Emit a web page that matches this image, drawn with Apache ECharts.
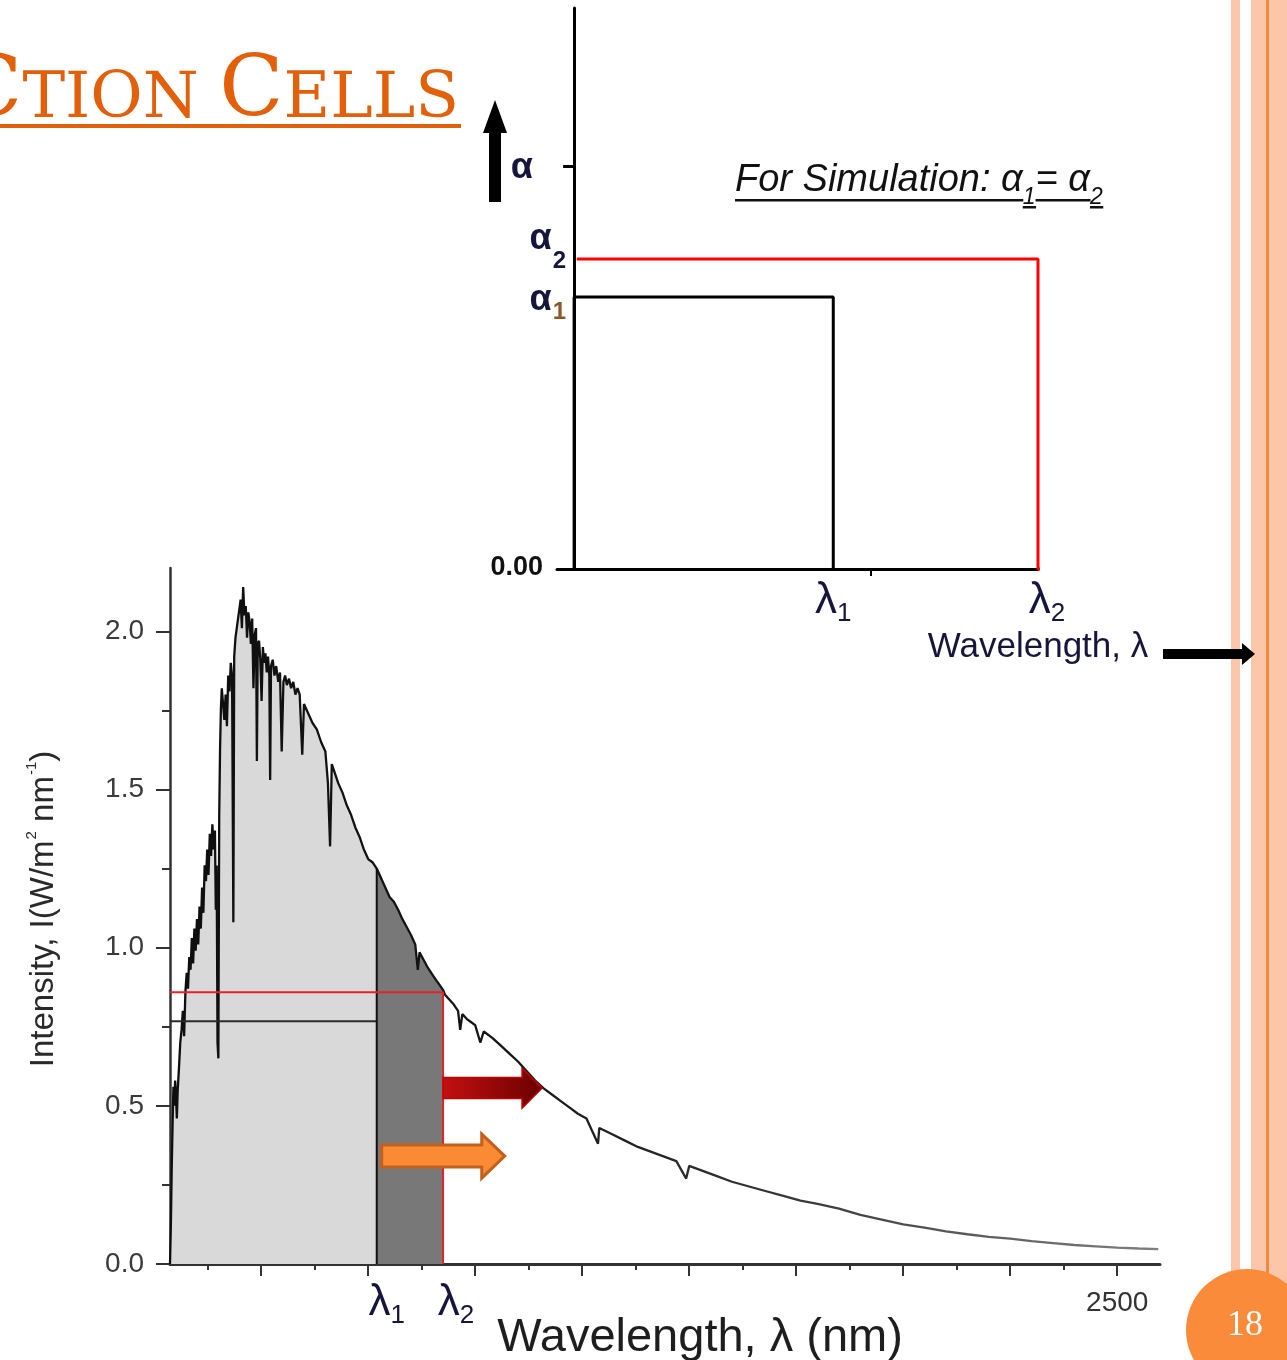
<!DOCTYPE html>
<html>
<head>
<meta charset="utf-8">
<script src="https://cdn.jsdelivr.net/npm/echarts@6/dist/echarts.min.js"></script>
<style>
  html, body { margin: 0; padding: 0; background: #ffffff; }
  #chart { width: 1287px; height: 1360px; }
</style>
</head>
<body>
<div id="chart"></div>
<script>
// ---- Step model: absorption coefficient vs wavelength (arbitrary units) ----
const stepLam1 = 1.0;
const stepLam2 = 1.79;
const stepAlpha1 = 1.0;
const stepAlpha2 = 1.14;
const stepAlphaMark = 1.48;
const stepXTick = 1.143;
const stepXEnd = 2.76;

// ---- Solar spectral irradiance, W/m^2/nm ----
const wavelengthNm = [
  287, 289, 291, 293, 295, 297, 299, 301, 303, 305, 308, 311, 314, 317, 320, 323, 326, 329, 332, 335,
  338, 341, 344, 347, 350, 353, 356, 359, 362, 365, 368, 371, 374, 377, 380, 383, 386, 389, 392, 394,
  396, 398, 400, 402, 404, 406, 408, 411, 414, 417, 420, 423, 426, 429, 432, 435, 437, 440, 444, 448,
  452, 455, 458, 461, 464, 467, 470, 473, 476, 479, 482, 485, 488, 490, 492, 495, 498, 501, 504, 507,
  510, 513, 516, 519, 521, 523, 527, 531, 535, 540, 544, 548, 552, 556, 560, 565, 570, 575, 580, 585,
  590, 596, 600, 610, 620, 630, 640, 650, 656, 661, 665, 670, 680, 690, 700, 710, 720, 730, 740, 750,
  760, 770, 780, 790, 800, 810, 820, 830, 840, 850, 860, 866, 870, 880, 890, 900, 910, 918, 925, 930,
  940, 950, 960, 965, 970, 980, 990, 1000, 1012, 1020, 1040, 1060, 1080, 1100, 1120, 1140, 1160, 1180, 1200, 1220,
  1240, 1260, 1287, 1290, 1320, 1350, 1380, 1410, 1440, 1470, 1493, 1500, 1530, 1560, 1600, 1640, 1680, 1720, 1760, 1800,
  1850, 1900, 1950, 2000, 2050, 2100, 2150, 2200, 2250, 2300, 2350, 2400, 2450, 2500, 2550, 2596
];
const intensity = [
  0.00, 0.12, 0.30, 0.44, 0.56, 0.50, 0.58, 0.53, 0.46, 0.55, 0.62, 0.70, 0.74, 0.80, 0.72, 0.86, 0.92, 0.87, 0.97, 0.93,
  1.03, 0.95, 1.06, 0.99, 1.09, 1.01, 1.13, 1.06, 1.19, 1.11, 1.26, 1.21, 1.31, 1.23, 1.36, 1.29, 1.39, 1.31, 1.37, 1.12,
  1.26, 0.70, 0.65, 1.42, 1.63, 1.76, 1.82, 1.77, 1.72, 1.80, 1.70, 1.86, 1.81, 1.90, 1.86, 1.08, 1.92, 1.98, 2.02, 2.06,
  2.10, 2.01, 2.14, 2.05, 2.08, 1.98, 2.06, 2.03, 1.96, 2.04, 1.82, 1.99, 2.01, 1.59, 1.96, 1.97, 1.91, 1.78, 1.95, 1.90,
  1.93, 1.87, 1.92, 1.86, 1.53, 1.89, 1.91, 1.86, 1.89, 1.84, 1.87, 1.62, 1.84, 1.86, 1.83, 1.85, 1.82, 1.84, 1.80, 1.82,
  1.80, 1.61, 1.77, 1.74, 1.71, 1.69, 1.65, 1.62, 1.52, 1.32, 1.58, 1.56, 1.52, 1.49, 1.45, 1.42, 1.38, 1.35, 1.31, 1.28,
  1.27, 1.25, 1.22, 1.19, 1.16, 1.145, 1.12, 1.09, 1.065, 1.04, 1.01, 0.93, 0.985, 0.96, 0.935, 0.915, 0.895, 0.88, 0.866, 0.85,
  0.835, 0.82, 0.80, 0.74, 0.79, 0.775, 0.765, 0.755, 0.70, 0.735, 0.715, 0.69, 0.665, 0.64, 0.61, 0.58, 0.555, 0.535, 0.515, 0.495,
  0.475, 0.46, 0.38, 0.43, 0.41, 0.39, 0.37, 0.355, 0.34, 0.325, 0.27, 0.31, 0.295, 0.28, 0.26, 0.245, 0.23, 0.215, 0.20, 0.19,
  0.175, 0.155, 0.14, 0.125, 0.115, 0.103, 0.094, 0.086, 0.08, 0.072, 0.066, 0.06, 0.056, 0.052, 0.049, 0.047
];

// Band edges and the levels drawn up to them
const lam1Nm = 770;
const lam2Nm = 925;
const lam1Top = 1.25;
const lam1Level = 0.767;
const lam2Level = 0.859;
const redArrowLevel = 0.556;
const orangeArrowLevel = 0.341;

// Axis ticks
const majorTicksNm = [500, 750, 1000, 1250, 1500, 1750, 2000, 2250, 2500];
const minorTicksNm = [375, 625, 875, 1125, 1375, 1625, 1875, 2125, 2375];
const yMajorTicks = [0, 0.5, 1.0, 1.5, 2.0];
const yMinorTicks = [0.25, 0.75, 1.25, 1.75];

const sans = '"Liberation Sans", Arial, Helvetica, sans-serif';
const ink = '#16163c';
const orange = '#e3600b';

function isNear(a, b) { return Math.abs(a - b) < 1e-6; }

const spectrum = wavelengthNm.map((w, i) => [w, intensity[i]]);
const spectrumToLam1 = spectrum.filter(p => p[0] <= lam1Nm);
const spectrumLam1ToLam2 = spectrum.filter(p => p[0] >= lam1Nm && p[0] <= lam2Nm);

const chart = echarts.init(document.getElementById('chart'), null, { renderer: 'canvas', width: 1287, height: 1360 });

const lamRich = {
  l: { fontFamily: sans, fontSize: 44, lineHeight: 44, color: ink },
  l2: { fontFamily: sans, fontSize: 44, lineHeight: 44, color: ink, padding: [0, 0, 0, 18] },
  ll1: { fontFamily: sans, fontSize: 44, lineHeight: 44, color: ink, padding: [0, 0, 0, 20] },
  ll2: { fontFamily: sans, fontSize: 44, lineHeight: 44, color: ink, padding: [0, 0, 0, 26] },
  s: { fontFamily: sans, fontSize: 26, lineHeight: 26, color: ink, padding: [26, 0, 0, 0] },
  n: { fontFamily: sans, fontSize: 28, lineHeight: 28, color: '#333333', padding: [16, 0, 0, 0] }
};

const option = {
  animation: false,
  backgroundColor: '#ffffff',
  grid: [
    { left: 557, top: 8, width: 481, height: 561, containLabel: false, outerBoundsMode: 'none' },
    { left: 170, top: 568, width: 990, height: 696, containLabel: false, outerBoundsMode: 'none' }
  ],
  xAxis: [
    {
      gridIndex: 0, type: 'value', min: -0.066, max: stepLam2, position: 'bottom',
      axisLine: { show: true, onZero: true, lineStyle: { color: '#000', width: 3 } },
      axisTick: { show: true, customValues: [stepXTick], length: 7, lineStyle: { color: '#000', width: 2 } },
      axisLabel: {
        show: true, customValues: [stepLam1, stepLam2], margin: 10,
        formatter: v => isNear(v, stepLam1) ? '{l|λ}{s|1}' : '{l2|λ}{s|2}',
        rich: lamRich
      },
      splitLine: { show: false },
      name: 'Wavelength, λ', nameLocation: 'end', nameGap: 0, nameMoveOverlap: false,
      nameTextStyle: { fontFamily: sans, fontSize: 35, color: ink, align: 'center', verticalAlign: 'top', padding: [61, 0, 0, 0] }
    },
    {
      gridIndex: 1, type: 'value', min: 287, max: 2600, position: 'bottom',
      axisLine: { show: true, onZero: false, lineStyle: { color: '#333', width: 3 } },
      axisTick: { show: true, customValues: majorTicksNm, length: 12, lineStyle: { color: '#333', width: 2 } },
      axisLabel: {
        show: true, customValues: [lam1Nm, lam2Nm, 2500], margin: 17,
        formatter: v => isNear(v, lam1Nm) ? '{ll1|λ}{s|1}' : (isNear(v, lam2Nm) ? '{ll2|λ}{s|2}' : '{n|' + v + '}'),
        rich: lamRich
      },
      splitLine: { show: false },
      name: 'Wavelength, λ (nm)', nameLocation: 'middle', nameGap: 51, nameMoveOverlap: false,
      nameTextStyle: { fontFamily: sans, fontSize: 47, color: '#1e1e1e', padding: [0, 0, 0, 70] }
    },
    {
      gridIndex: 1, type: 'value', min: 287, max: 2600, position: 'bottom',
      axisLine: { show: false, onZero: false },
      axisTick: { show: true, customValues: minorTicksNm, length: 6, lineStyle: { color: '#333', width: 2 } },
      axisLabel: { show: false },
      splitLine: { show: false }
    }
  ],
  yAxis: [
    {
      gridIndex: 0, type: 'value', min: 0, max: 2.0625, position: 'left',
      axisLine: { show: true, onZero: true, lineStyle: { color: '#000', width: 3 } },
      axisTick: { show: true, customValues: [stepAlphaMark], length: 11, lineStyle: { color: '#000', width: 3 } },
      axisLabel: {
        show: true, customValues: [0, stepAlpha1, stepAlpha2, stepAlphaMark], margin: -9,
        formatter: v => {
          if (isNear(v, 0)) return '{z|0.00}';
          if (isNear(v, stepAlpha1)) return '{a1|α}{s1|1}';
          if (isNear(v, stepAlpha2)) return '{a2|α}{s2|2}';
          return '{am|α}';
        },
        rich: {
          z: { fontFamily: sans, fontSize: 27, fontWeight: 'bold', color: '#111', lineHeight: 27, padding: [0, 23, 2, 0] },
          am: { fontFamily: sans, fontSize: 36, fontWeight: 'bold', color: ink, lineHeight: 36, padding: [4, 33, 0, 0] },
          a1: { fontFamily: sans, fontSize: 36, fontWeight: 'bold', color: ink, lineHeight: 36, padding: [6, 0, 0, 0] },
          s1: { fontFamily: sans, fontSize: 24, fontWeight: 'bold', color: '#8a5a2a', lineHeight: 24, padding: [30, 0, 0, 1] },
          a2: { fontFamily: sans, fontSize: 36, fontWeight: 'bold', color: ink, lineHeight: 36, padding: [0, 0, 40, 0] },
          s2: { fontFamily: sans, fontSize: 24, fontWeight: 'bold', color: ink, lineHeight: 24, padding: [4, 0, 0, 1] }
        }
      },
      splitLine: { show: false }
    },
    {
      gridIndex: 1, type: 'value', min: 0, max: 2.2, position: 'left',
      axisLine: { show: true, onZero: false, lineStyle: { color: '#333', width: 2.5 } },
      axisTick: { show: true, customValues: yMajorTicks, length: 14, lineStyle: { color: '#333', width: 2 } },
      axisLabel: {
        show: true, customValues: yMajorTicks, margin: 26,
        formatter: v => v.toFixed(1),
        fontFamily: sans, fontSize: 28, color: '#3a3a3a'
      },
      splitLine: { show: false },
      name: '{m|Intensity, I(W/m}{sup|2}{m| nm}{sup|-1}{m|)}',
      nameLocation: 'middle', nameGap: 110, nameMoveOverlap: false,
      nameTextStyle: {
        padding: [0, 0, 0, 14],
        rich: {
          m: { fontFamily: sans, fontSize: 33, lineHeight: 33, color: '#2a2a2a' },
          sup: { fontFamily: sans, fontSize: 15, lineHeight: 15, color: '#2a2a2a', padding: [0, 0, 24, 1] }
        }
      }
    },
    {
      gridIndex: 1, type: 'value', min: 0, max: 2.2, position: 'left',
      axisLine: { show: false, onZero: false },
      axisTick: { show: true, customValues: yMinorTicks, length: 8, lineStyle: { color: '#333', width: 2 } },
      axisLabel: { show: false },
      splitLine: { show: false }
    }
  ],
  series: [
    {
      name: 'alpha1 step', type: 'line', xAxisIndex: 0, yAxisIndex: 0, symbol: 'none', z: 4,
      data: [[0, 0], [0, stepAlpha1], [stepLam1, stepAlpha1], [stepLam1, 0]],
      lineStyle: { color: '#000', width: 3 }
    },
    {
      name: 'alpha2 step', type: 'line', xAxisIndex: 0, yAxisIndex: 0, symbol: 'none', z: 3, clip: false,
      data: [[0.01, stepAlpha2], [stepLam2, stepAlpha2], [stepLam2, 0], [stepXEnd, 0]],
      lineStyle: { color: '#ff0000', width: 3 }
    },
    {
      name: 'absorbed below lam1', type: 'line', xAxisIndex: 1, yAxisIndex: 1, symbol: 'none', z: 1, silent: true,
      data: spectrumToLam1,
      lineStyle: { width: 0 }, areaStyle: { color: '#d9d9d9', opacity: 1 }
    },
    {
      name: 'absorbed lam1 to lam2', type: 'line', xAxisIndex: 1, yAxisIndex: 1, symbol: 'none', z: 1, silent: true,
      data: spectrumLam1ToLam2,
      lineStyle: { width: 0 }, areaStyle: { color: '#787878', opacity: 1 }
    },
    {
      name: 'spectrum', type: 'line', xAxisIndex: 1, yAxisIndex: 1, symbol: 'none', z: 3,
      data: spectrum,
      lineStyle: {
        width: 2.3,
        color: new echarts.graphic.LinearGradient(0, 0, 1, 0, [
          { offset: 0, color: '#0e0e0e' },
          { offset: 0.35, color: '#161616' },
          { offset: 0.6, color: '#333333' },
          { offset: 1, color: '#808080' }
        ])
      }
    },
    {
      name: 'lam1 edge', type: 'line', xAxisIndex: 1, yAxisIndex: 1, symbol: 'none', z: 4,
      data: [[287, lam1Level], [lam1Nm, lam1Level]],
      lineStyle: { color: '#2b2b2b', width: 2 }
    },
    {
      name: 'lam1 cut', type: 'line', xAxisIndex: 1, yAxisIndex: 1, symbol: 'none', z: 4,
      data: [[lam1Nm, 0], [lam1Nm, lam1Top]],
      lineStyle: { color: '#111', width: 2 }
    },
    {
      name: 'lam2 edge', type: 'line', xAxisIndex: 1, yAxisIndex: 1, symbol: 'none', z: 5,
      data: [[287, lam2Level], [lam2Nm, lam2Level], [lam2Nm, 0]],
      lineStyle: { color: '#e8202a', width: 2 }
    }
  ]
};

chart.setOption(option);

// Annotation arrows anchored to the band edges
const redStart = chart.convertToPixel({ xAxisIndex: 1, yAxisIndex: 1 }, [lam2Nm, redArrowLevel]);
const orangeStart = chart.convertToPixel({ xAxisIndex: 1, yAxisIndex: 1 }, [lam1Nm, orangeArrowLevel]);

function arrowPoints(x0, y0, len, bodyHalf, headHalf, headLen) {
  const hx = x0 + len - headLen;
  return [[x0, y0 - bodyHalf], [hx, y0 - bodyHalf], [hx, y0 - headHalf], [x0 + len, y0],
          [hx, y0 + headHalf], [hx, y0 + bodyHalf], [x0, y0 + bodyHalf]];
}

const rx = redStart[0], ry = redStart[1];
const ox = orangeStart[0] + 5, oy = orangeStart[1];

// Underline for the simulation note: lower under the subscripts
const noteX = 735;
const measureCtx = document.createElement('canvas').getContext('2d');
function textWidth(txt, size) {
  measureCtx.font = 'italic ' + size + 'px ' + sans;
  return measureCtx.measureText(txt).width;
}
const notePieces = [
  { w: textWidth('For Simulation: α', 38), low: false },
  { w: textWidth('1', 23), low: true },
  { w: textWidth('= α', 38), low: false },
  { w: textWidth('2', 23), low: true }
];
const noteUnderline = [];
let ux = noteX;
notePieces.forEach(p => {
  noteUnderline.push({ type: 'rect', z: 10, shape: { x: ux, y: p.low ? 206 : 199, width: p.w + 0.5, height: 2.5 }, style: { fill: '#111' } });
  ux += p.w;
});

chart.setOption({
  graphic: [
    // right-hand decorative stripes
    { type: 'rect', z: 0, shape: { x: 1231, y: 0, width: 9, height: 1360 }, style: { fill: '#fcc6ab' } },
    { type: 'rect', z: 0, shape: { x: 1251, y: 0, width: 36, height: 1360 }, style: { fill: '#fcc6ab' } },
    { type: 'rect', z: 0, shape: { x: 1266, y: 0, width: 3, height: 1360 }, style: { fill: '#f7883a' } },
    // page number badge
    { type: 'circle', z: 20, shape: { cx: 1247, cy: 1330, r: 61 }, style: { fill: '#f98b3a' } },
    { type: 'text', z: 21, style: { x: 1245, y: 1326, text: '18', align: 'center', verticalAlign: 'middle',
      fontFamily: '"Liberation Serif", "DejaVu Serif", serif', fontSize: 36, fill: '#ffffff' } },
    // slide heading
    { type: 'text', z: 10, style: {
      x: 459, y: 51, align: 'right', verticalAlign: 'top',
      text: '{B|C}{s|TION }{B|C}{s|ELLS}',
      rich: {
        B: { fontFamily: '"DejaVu Serif", serif', fontSize: 84, lineHeight: 84, fill: orange },
        s: { fontFamily: '"DejaVu Serif", serif', fontSize: 64, lineHeight: 64, fill: orange, padding: [14, 0, 0, 0] }
      } } },
    { type: 'rect', z: 10, shape: { x: 0, y: 124, width: 461, height: 4 }, style: { fill: orange } },
    // simulation note
    { type: 'text', z: 10, style: {
      x: noteX, y: 161, align: 'left', verticalAlign: 'top',
      text: '{t|For Simulation: α}{s|1}{t|= α}{s|2}',
      rich: {
        t: { fontFamily: sans, fontStyle: 'italic', fontSize: 38, lineHeight: 38, fill: '#111' },
        s: { fontFamily: sans, fontStyle: 'italic', fontSize: 23, lineHeight: 23, fill: '#111', padding: [35, 0, 0, 0] }
      } } },
    ...noteUnderline,
    // axis direction arrows
    { type: 'polygon', z: 10, shape: { points: [[495, 100], [507, 133], [501, 133], [501, 202], [489, 202], [489, 133], [483, 133]] }, style: { fill: '#000' } },
    { type: 'polygon', z: 10, shape: { points: arrowPoints(1163, 654, 92, 5, 11, 13) }, style: { fill: '#000' } },
    // band arrows
    { type: 'polygon', z: 12, shape: { points: arrowPoints(rx, ry, 99, 10.5, 20, 20) },
      style: { fill: new echarts.graphic.LinearGradient(0, 0, 1, 0, [
        { offset: 0, color: '#c41010' }, { offset: 1, color: '#6a0000' }]), stroke: '#c00000', lineWidth: 1.5 } },
    { type: 'polygon', z: 12, shape: { points: arrowPoints(ox, oy, 123, 11, 22, 23) },
      style: { fill: '#fb8a35', stroke: '#c4601c', lineWidth: 3 } }
  ]
});
</script>
</body>
</html>
